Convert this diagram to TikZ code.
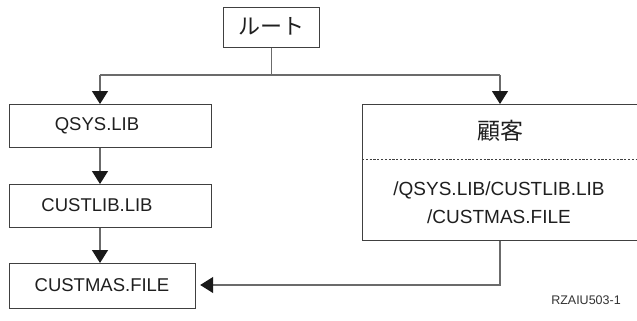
\documentclass[tikz,border=0pt]{standalone}
\usepackage{fontspec}
\setmainfont{Liberation Sans}
\newfontfamily\cjk{Noto Sans CJK JP}
\usetikzlibrary{arrows.meta}
\definecolor{linegray}{gray}{0.42}
\definecolor{boxgray}{gray}{0.25}
\tikzset{
  box/.style={draw=boxgray, line width=1.2pt, rectangle, inner sep=0pt, anchor=north west},
  lbl/.style={font=\fontsize{18.5}{20}\selectfont, text=black!88},
  conn/.style={draw=linegray, line width=1.3pt},
  arr/.style={conn, -{Triangle[width=16pt,length=13pt,color=black!90,fill=black!90]}},
}
\begin{document}
\begin{tikzpicture}[x=1pt,y=-1pt]
\clip (0,0) rectangle (637,321);
\fill[white] (0,0) rectangle (637,321);
% boxes
\node[box, minimum width=96pt, minimum height=40pt] (root) at (223,7) {};
\node[font=\cjk\fontsize{22}{24}\selectfont, text=black!88] (roottxt) at (271.5,26.5) {ルート};
\node[box, minimum width=202pt, minimum height=43pt] (qsys) at (9,104) {};
\node[lbl] (qsystxt) at (97,125.5) {QSYS.LIB};
\node[box, minimum width=202pt, minimum height=43pt] (custlib) at (9,184) {};
\node[lbl] (custlibtxt) at (97,205.5) {CUSTLIB.LIB};
\node[box, minimum width=186pt, minimum height=45pt] (custmas) at (9,263) {};
\node[lbl] (custmastxt) at (102,285.5) {CUSTMAS.FILE};
\node[box, minimum width=277pt, minimum height=136pt] (kokyaku) at (362,104) {};
\node[font=\cjk\fontsize{23}{25}\selectfont, text=black!88] (kokyakutxt) at (500,130.5) {顧客};
\coordinate (dl) at (362,159);
\coordinate (dr) at (640,159);
\draw[draw=boxgray, line width=0.8pt, dash pattern=on 2.2pt off 1.6pt] (dl) -- (dr);
\node[font=\fontsize{19}{28}\selectfont, text=black!88, align=center] (pathtxt) at (499,203) {/QSYS.LIB/CUSTLIB.LIB\\/CUSTMAS.FILE};
\node[font=\fontsize{12.5}{14}\selectfont, text=black!80] (label) at (586,300) {RZAIU503-1};
% connectors
\coordinate (jroot) at (271.5,75);
\coordinate (jl) at (100,75);
\coordinate (jr) at (500,75);
\draw[conn] (root.south -| jroot) -- (jroot);
\draw[conn] (jl) -- (jr);
\draw[arr] (jl) -- (jl |- qsys.north);
\draw[arr] (jr) -- (jr |- kokyaku.north);
\draw[arr] (jl |- qsys.south) -- (jl |- custlib.north);
\draw[arr] (jl |- custlib.south) -- (jl |- custmas.north);
\coordinate (jb) at (500,285);
\draw[arr] (jr |- kokyaku.south) -- (jb) -- ([xshift=4pt]custmas.east |- jb);
\end{tikzpicture}
\end{document}
